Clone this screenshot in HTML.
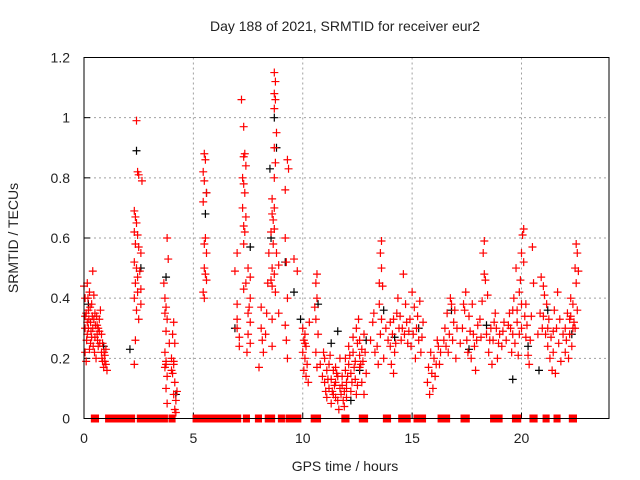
<!DOCTYPE html>
<html><head><meta charset="utf-8"><style>
body{margin:0;background:#fff}
svg{display:block;font-family:"Liberation Sans",sans-serif}
</style></head><body>
<svg id="chart" width="640" height="480" viewBox="0 0 640 480" xmlns="http://www.w3.org/2000/svg">
<rect width="640" height="480" fill="#fff"/>
<text x="345" y="31" font-size="14" text-anchor="middle" fill="#222">Day 188 of 2021, SRMTID for receiver eur2</text>
<text x="345" y="471" font-size="14" text-anchor="middle" fill="#222">GPS time / hours</text>
<text x="18" y="238" font-size="14" text-anchor="middle" fill="#222" transform="rotate(-90 18 238)">SRMTID / TECUs</text>
<g id="grid"></g>
<g id="ticks"></g>
<g id="black"></g>
<g id="red"></g>
<g id="zeros"></g>
<rect x="84" y="57.5" width="525" height="361" fill="none" stroke="#000" stroke-width="1"/>
</svg>
<script>
const xTicks=[0,5,10,15,20];
const yTicks=[0,0.2,0.4,0.6,0.8,1,1.2];
const yTickLabels=["0","0.2","0.4","0.6","0.8","1","1.2"];
const redA=[[0.05,0.40],[0.1,0.35],[0.15,0.45],[0.2,0.30],[0.25,0.42],[0.3,0.25],[0.05,0.22],[0.15,0.28],[0.35,0.38],[0.4,0.49],[0.45,0.33],[0.5,0.27],[0.55,0.20],[0.6,0.31],[0.65,0.24],[0.7,0.29],[0.75,0.36],[0.8,0.22],[0.85,0.19],[0.9,0.17],[0.95,0.21],[1.0,0.18],[1.05,0.16],[0.1,0.19],[0.3,0.32],[0.45,0.41],[0.2,0.36],[0.6,0.28],[0.7,0.33],[0.85,0.25],[0.95,0.19],[0.25,0.23],[0.5,0.35],[0.05,0.30],[0.4,0.30],[0.8,0.28],[1.0,0.23],[0.65,0.30],[0.15,0.32],[0.35,0.27],[0.0,0.44],[0.05,0.34]];
const redB=[[2.4,0.99],[2.45,0.82],[2.5,0.81],[2.65,0.79],[2.3,0.69],[2.35,0.67],[2.4,0.65],[2.3,0.62],[2.45,0.61],[2.35,0.58],[2.6,0.55],[2.5,0.57],[2.3,0.52],[2.4,0.50],[2.55,0.49],[2.35,0.45],[2.45,0.42],[2.3,0.40],[2.6,0.38],[2.4,0.36],[2.5,0.33],[2.35,0.26],[2.3,0.18],[2.6,0.43],[2.45,0.47]];
const redC=[[3.8,0.60],[3.85,0.53],[3.65,0.45],[3.7,0.40],[3.75,0.37],[3.7,0.35],[3.8,0.33],[3.75,0.29],[3.9,0.25],[3.7,0.22],[3.75,0.19],[3.7,0.17],[3.8,0.14],[3.75,0.10],[3.8,0.05],[3.75,0.18],[4.1,0.32],[4.05,0.28],[4.15,0.25],[4.0,0.20],[4.1,0.18],[4.05,0.15],[4.15,0.12],[4.1,0.08],[4.2,0.06],[4.15,0.03],[4.2,0.02],[4.1,0.19],[4.0,0.16],[4.25,0.09]];
const redD=[[5.5,0.88],[5.55,0.86],[5.45,0.82],[5.5,0.79],[5.6,0.75],[5.45,0.72],[5.55,0.60],[5.5,0.58],[5.6,0.55],[5.5,0.50],[5.55,0.48],[5.6,0.46],[5.45,0.42],[5.5,0.40]];
const redE=[[7.2,1.06],[7.3,0.97],[7.35,0.88],[7.3,0.87],[7.4,0.84],[7.25,0.80],[7.3,0.78],[7.35,0.75],[7.25,0.70],[7.4,0.67],[7.3,0.64],[7.35,0.62],[7.3,0.58],[7.0,0.55],[7.5,0.50],[7.6,0.47],[7.4,0.45],[7.3,0.43],[7.6,0.40],[7.0,0.38],[7.5,0.35],[7.6,0.32],[7.0,0.30],[7.5,0.28],[7.6,0.25],[7.1,0.24],[7.0,0.33],[7.55,0.37],[6.9,0.49],[7.1,0.27],[7.45,0.22]];
const redF=[[8.7,1.15],[8.75,1.12],[8.7,1.08],[8.75,1.06],[8.7,1.03],[8.8,0.95],[8.7,0.90],[9.3,0.86],[8.75,0.85],[9.35,0.83],[8.7,0.80],[9.2,0.76],[8.6,0.73],[8.7,0.70],[8.6,0.68],[8.65,0.66],[8.7,0.63],[9.2,0.60],[8.65,0.58],[8.8,0.55],[9.25,0.52],[8.6,0.50],[8.7,0.48],[8.55,0.46],[8.6,0.44],[8.75,0.42],[9.3,0.40],[8.1,0.37],[8.35,0.35],[8.6,0.33],[8.1,0.30],[8.3,0.28],[8.15,0.26],[8.6,0.24],[8.2,0.22],[9.3,0.20],[8.0,0.17],[8.9,0.51],[8.45,0.55],[8.55,0.62],[9.2,0.31],[9.25,0.26],[9.6,0.53],[9.75,0.49],[8.9,0.35],[8.4,0.45]];
const redG=[[10.0,0.30],[10.1,0.28],[10.05,0.26],[10.15,0.24],[10.0,0.22],[10.1,0.20],[10.2,0.18],[10.05,0.16],[10.15,0.14],[10.1,0.25],[10.3,0.32],[10.25,0.12],[10.65,0.48],[10.6,0.45],[10.65,0.40],[10.55,0.37],[10.6,0.33],[10.7,0.28],[10.6,0.22],[10.65,0.17]];
const redH=[[10.9,0.14],[11.0,0.12],[11.1,0.16],[11.2,0.10],[11.3,0.13],[11.4,0.08],[11.5,0.12],[11.6,0.06],[11.7,0.10],[11.8,0.14],[11.9,0.09],[12.0,0.12],[12.1,0.18],[12.2,0.15],[12.3,0.22],[12.4,0.19],[12.5,0.25],[12.6,0.17],[12.7,0.12],[12.8,0.08],[11.0,0.20],[11.2,0.18],[11.4,0.16],[11.6,0.14],[11.8,0.11],[12.0,0.07],[12.2,0.09],[12.4,0.13],[12.6,0.21],[12.8,0.28],[11.1,0.07],[11.3,0.05],[11.5,0.17],[11.7,0.20],[11.9,0.04],[12.1,0.24],[12.3,0.27],[12.5,0.11],[12.7,0.23],[12.9,0.15],[11.05,0.09],[11.45,0.11],[11.85,0.06],[12.25,0.12],[12.65,0.18],[12.45,0.30],[12.55,0.33],[11.65,0.03],[11.95,0.16],[12.15,0.21]];
const redI=[[13.6,0.59],[13.55,0.55],[13.6,0.50],[13.5,0.45],[13.65,0.44],[13.5,0.38],[13.6,0.33],[13.55,0.28],[13.4,0.24],[13.7,0.20],[13.2,0.32],[13.25,0.35],[13.1,0.26],[13.3,0.22],[13.45,0.18]];
const redJ=[[14.0,0.32],[14.1,0.28],[14.2,0.22],[14.05,0.18],[14.15,0.15],[14.3,0.35],[14.4,0.30],[14.5,0.26],[14.35,0.40],[14.6,0.48],[14.7,0.38],[14.8,0.25],[14.9,0.33],[15.0,0.42],[15.1,0.37],[15.2,0.30],[15.3,0.26],[15.4,0.22],[15.15,0.20],[15.25,0.34],[15.35,0.39],[15.05,0.28],[14.25,0.25],[14.45,0.34],[14.55,0.30]];
const redK=[[15.7,0.12],[15.8,0.08],[15.9,0.15],[16.0,0.20],[16.1,0.18],[16.2,0.24],[15.85,0.22],[15.95,0.10],[16.05,0.14],[16.15,0.26],[16.3,0.22],[15.75,0.17],[16.5,0.30],[16.6,0.35],[16.7,0.28],[16.8,0.38],[16.9,0.32],[16.55,0.24],[16.75,0.40],[16.65,0.22],[16.85,0.26],[17.0,0.20]];
const redL=[[17.3,0.30],[17.4,0.36],[17.5,0.26],[17.6,0.34],[17.7,0.20],[17.8,0.28],[17.9,0.16],[18.0,0.31],[17.45,0.42],[17.55,0.22],[17.75,0.38],[17.85,0.24],[18.3,0.59],[18.25,0.55],[18.3,0.48],[18.35,0.46],[18.2,0.39],[18.1,0.33],[18.4,0.28],[18.5,0.22],[18.6,0.30],[18.7,0.26],[18.8,0.35],[18.9,0.20],[19.0,0.28],[19.1,0.24],[19.2,0.32],[18.45,0.41],[18.65,0.18],[18.85,0.30]];
const redM=[[19.5,0.30],[19.6,0.36],[19.7,0.25],[19.8,0.32],[19.9,0.28],[20.0,0.38],[20.1,0.63],[20.05,0.61],[20.0,0.55],[20.1,0.52],[19.9,0.42],[19.95,0.46],[20.15,0.34],[20.2,0.27],[20.3,0.21],[20.4,0.26],[19.55,0.22],[19.65,0.40],[19.75,0.50],[19.85,0.21],[20.25,0.31],[20.5,0.57],[20.55,0.45],[19.45,0.35],[20.35,0.18]];
const redN=[[20.9,0.47],[21.0,0.44],[21.05,0.41],[20.85,0.35],[20.95,0.30],[21.1,0.28],[21.2,0.24],[21.3,0.20],[21.4,0.16],[21.15,0.38],[21.25,0.33],[21.35,0.27],[21.5,0.36],[21.6,0.30],[21.7,0.25],[21.8,0.19],[21.45,0.22],[21.65,0.42],[21.55,0.15],[21.75,0.33]];
const redO=[[22.0,0.30],[22.1,0.35],[22.2,0.28],[22.25,0.40],[22.3,0.24],[22.4,0.32],[22.5,0.58],[22.55,0.55],[22.45,0.50],[22.5,0.45],[22.35,0.38],[22.15,0.20],[22.05,0.26],[22.6,0.49],[22.25,0.34],[22.45,0.30]];
const extra0=[[0.12,0.26],[0.22,0.33],[0.32,0.29],[0.42,0.24],[0.52,0.31],[0.62,0.26],[0.72,0.25],[0.82,0.20],[0.92,0.22],[0.18,0.40],[0.28,0.37],[0.38,0.34],[0.48,0.22],[0.58,0.34]];
const extra1=[[10.8,0.18],[10.95,0.22],[11.15,0.13],[11.25,0.21],[11.35,0.09],[11.55,0.15],[11.75,0.08],[11.95,0.20],[12.05,0.14],[12.35,0.17],[12.45,0.08],[12.75,0.19],[12.85,0.22],[11.5,0.07],[12.0,0.10],[12.6,0.26]];
const extra2=[[13.8,0.30],[13.9,0.26],[14.0,0.24],[14.15,0.33],[14.65,0.28],[14.75,0.32],[14.85,0.29],[14.95,0.24],[15.45,0.27],[15.5,0.32],[16.25,0.18],[16.45,0.26],[16.95,0.36],[17.05,0.30],[17.2,0.25],[17.35,0.38],[17.65,0.29],[17.95,0.26]];
const extra3=[[18.15,0.27],[18.55,0.26],[18.75,0.32],[18.95,0.25],[19.15,0.29],[19.3,0.26],[19.4,0.31],[19.6,0.28],[19.8,0.36],[20.0,0.30],[20.2,0.38],[20.45,0.34],[20.75,0.28],[21.0,0.34],[21.2,0.30],[21.45,0.29],[21.9,0.28],[22.0,0.22],[22.2,0.33],[22.35,0.30],[22.55,0.36]];
const blackPts=[[8.7,1.0],[8.5,0.83],[8.8,0.90],[5.6,0.75],[5.55,0.68],[2.1,0.23],[2.4,0.89],[3.75,0.47],[2.6,0.50],[7.6,0.57],[8.55,0.60],[9.6,0.42],[9.2,0.52],[10.7,0.38],[11.3,0.25],[11.6,0.29],[12.2,0.06],[12.6,0.16],[4.2,0.08],[0.2,0.38],[0.9,0.24],[14.2,0.27],[15.3,0.30],[16.8,0.36],[18.4,0.31],[19.6,0.13],[20.3,0.24],[21.2,0.36],[22.3,0.28],[6.9,0.30],[9.9,0.33],[12.9,0.26],[13.7,0.36],[17.6,0.23],[20.8,0.16]];
const zeroStart=[0.45,1.1,2.55,2.9,3.5,4.0,5.1,5.85,6.45,7.0,7.4,7.95,8.4,9.0,9.35,9.6,10.5,11.9,12.7,13.8,14.5,15.2,16.3,16.55,17.35,18.7,19.7,20.5,21.1,21.6,22.3];
const zeroEnd=[0.55,2.2,2.65,3.25,3.7,4.05,5.6,6.3,6.8,7.05,7.45,8.0,8.6,9.05,9.55,9.8,10.7,12.0,12.85,13.9,14.8,15.5,16.4,16.6,17.5,19.0,19.85,20.6,21.15,21.65,22.4];

const NS="http://www.w3.org/2000/svg";
const X0=84,X1=609,Y0=418.5,Y1=57.5;
function sx(h){return X0+(h/24)*(X1-X0);}
function sy(v){return Y0-(v/1.2)*(Y0-Y1);}
function mk(tag,attrs,parent){const e=document.createElementNS(NS,tag);for(const k in attrs)e.setAttribute(k,attrs[k]);parent.appendChild(e);return e;}
const grid=document.getElementById('grid'),ticks=document.getElementById('ticks');
xTicks.forEach(t=>{const x=sx(t);
  if(t>0){const g=mk('line',{x1:x,x2:x,y1:Y1,y2:Y0,stroke:'#a0a0a0','stroke-dasharray':'2,3','stroke-width':1},grid);
  
  }
  const tl=mk('line',{x1:x,x2:x,y1:Y0,y2:Y0-6,stroke:'#000'},ticks);
  
  
  const tx=mk('text',{x:x,y:443,'font-size':14,'text-anchor':'middle',fill:'#222'},ticks);tx.textContent=String(t);
  
  
});
yTicks.forEach((t,i)=>{const y=sy(t);
  if(t>0&&t<1.2){const g=mk('line',{x1:X0,x2:X1,y1:y,y2:y,stroke:'#a0a0a0','stroke-dasharray':'2,3','stroke-width':1},grid);
  
  }
  const tl=mk('line',{x1:X0,x2:X0+6,y1:y,y2:y,stroke:'#000'},ticks);
  
  
  const tx=mk('text',{x:70,y:y+5,'font-size':14,'text-anchor':'end',fill:'#222'},ticks);tx.textContent=yTickLabels[i];
  
  
});
function plus(parent,h,v,color,name){const x=sx(h),y=sy(v);
  const p=mk('path',{d:`M${x-4} ${y}H${x+4}M${x} ${y-4}V${y+4}`,stroke:color,'stroke-width':1.2,fill:'none'},parent);
  
  }
const blackG=document.getElementById('black');
blackPts.forEach(p=>plus(blackG,p[0],p[1],'#000','black-point'));
const redG2=document.getElementById('red');
[redA,redB,redC,redD,redE,redF,redG,redH,redI,redJ,redK,redL,redM,redN,redO,extra0,extra1,extra2,extra3].forEach(arr=>arr.forEach(p=>plus(redG2,p[0],p[1],'#f00','red-point')));
const zg=document.getElementById('zeros');
zeroStart.forEach((s,i)=>{const x0=sx(s),x1=sx(zeroEnd[i]);
  const r=mk('rect',{x:x0-3,y:Y0-4,width:Math.max(x1-x0,0)+6,height:8,fill:'#f00'},zg);
  
  
});
</script>
</body></html>
